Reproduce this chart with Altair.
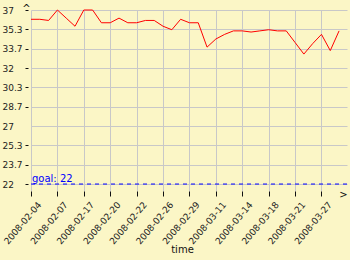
import altair as alt
import pandas as pd

times = [
    "2008-02-04 08:00", "2008-02-05 08:00", "2008-02-06 08:00", "2008-02-07 08:00",
    "2008-02-11 08:00", "2008-02-14 08:00", "2008-02-17 08:00", "2008-02-18 08:00",
    "2008-02-19 08:00", "2008-02-20 08:00", "2008-02-20 20:00", "2008-02-21 08:00",
    "2008-02-22 08:00", "2008-02-24 08:00", "2008-02-25 08:00", "2008-02-26 08:00",
    "2008-02-27 08:00", "2008-02-28 08:00", "2008-02-29 08:00", "2008-03-03 08:00",
    "2008-03-07 08:00", "2008-03-11 08:00", "2008-03-12 08:00", "2008-03-13 08:00",
    "2008-03-14 08:00", "2008-03-16 08:00", "2008-03-17 08:00", "2008-03-18 08:00",
    "2008-03-19 08:00", "2008-03-20 08:00", "2008-03-21 08:00", "2008-03-24 08:00",
    "2008-03-26 08:00", "2008-03-27 08:00", "2008-03-28 08:00", "2008-03-31 08:00",
]
values = [
    36.2, 36.2, 36.1, 37.0, 36.3, 35.6, 37.0, 37.0, 35.9, 35.9, 36.3, 35.9,
    35.9, 36.1, 36.1, 35.6, 35.3, 36.2, 35.9, 35.9, 33.8, 34.5, 34.9, 35.2,
    35.2, 35.1, 35.2, 35.3, 35.2, 35.2, 34.2, 33.2, 34.1, 34.9, 33.5, 35.2,
]
goal = 22
goal_label = "goal: 22"
y_ticks = [22 + i * 15 / 9 for i in range(10)]
label_idx = list(range(0, 36, 3))

df = pd.DataFrame({"idx": list(range(len(values))), "value": values})
one = pd.DataFrame({"k": [0]})
labels_js = "[" + ",".join("'" + t[:10] + "'" for t in times) + "]"

BG = "#FBF6C6"
FONT = "DejaVu Sans"
X_MAX = 35.9
Y_MIN, Y_MAX = 21.4, 37

x_scale = alt.Scale(domain=[0, X_MAX], nice=False, zero=False)
y_scale = alt.Scale(domain=[Y_MIN, Y_MAX], nice=False, zero=False)

line = alt.Chart(df).mark_line(color="#FF0000", strokeWidth=1).encode(
    x=alt.X("idx:Q", scale=x_scale, title="time",
            axis=alt.Axis(values=label_idx, tickCount=50,
                          labelExpr=labels_js + "[datum.value]",
                          labelAngle=310, labelAlign="right", labelBaseline="top",
                          labelOffset=5, tickSize=5, labelPadding=4,
                          labelOverlap=False, labelFlush=False,
                          titleX=151, titleY=58, titleBaseline="middle",
                          titleFontWeight="normal", titleFontSize=10,
                          titleFont=FONT, titleColor="#111")),
    y=alt.Y("value:Q", scale=y_scale, title=None,
            axis=alt.Axis(values=y_ticks, tickCount=50,
                          labelExpr="format(datum.value, '.3~r')",
                          labelAlign="left", labelBaseline="middle", offset=3, tickSize=3,
                          labelPadding=23, labelOverlap=False, labelFlush=False,
                          tickColor=alt.condition("abs(datum.value - 27) < 0.01",
                                                  alt.value("transparent"),
                                                  alt.value("#111")))),
)

rule = alt.Chart(one).mark_rule(color="#0000FF", strokeDash=[4, 4], strokeWidth=1).encode(
    y=alt.datum(goal, scale=y_scale)
)
goal_text = alt.Chart(one).mark_text(
    text=goal_label, color="#0000FF", align="left", baseline="alphabetic",
    font=FONT, fontSize=10, dx=1, dy=-2
).encode(x=alt.datum(0, scale=x_scale), y=alt.datum(goal, scale=y_scale))

up_arrow = alt.Chart(one).mark_text(
    text="^", color="#111", align="center", baseline="middle", font=FONT, fontSize=10,
    dx=-4.5, dy=-1
).encode(x=alt.datum(0, scale=x_scale), y=alt.datum(Y_MAX, scale=y_scale))
right_arrow = alt.Chart(one).mark_text(
    text=">", color="#111", align="center", baseline="middle", font=FONT, fontSize=10,
    dx=-3.5, dy=3.5
).encode(x=alt.datum(X_MAX, scale=x_scale), y=alt.datum(Y_MIN, scale=y_scale))

chart = alt.layer(line, rule, goal_text, up_arrow, right_arrow).properties(
    width=316, height=181,
    padding={"left": 31, "top": 10, "right": 3, "bottom": 69},
    autosize=alt.AutoSizeParams(type="none"),
    background=BG,
).configure_view(stroke="transparent", fill=BG).configure_axis(
    gridColor="#C8C8C8", gridWidth=1, domain=False, labelFont=FONT, labelFontSize=9,
    labelColor="#222", tickColor="#111",
)

chart.save("out.html", embed_options={"renderer": "svg", "actions": False})
